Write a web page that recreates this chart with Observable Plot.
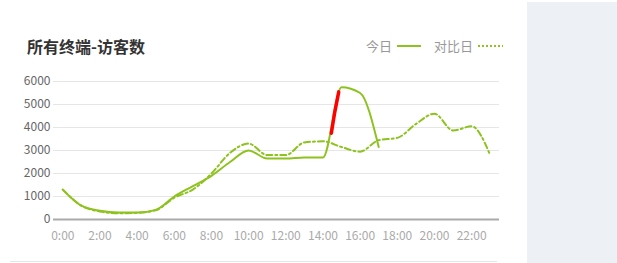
<!DOCTYPE html>
<html>
<head>
<meta charset="utf-8">
<script src="https://cdn.jsdelivr.net/npm/d3@7"></script>
<script src="https://cdn.jsdelivr.net/npm/@observablehq/plot@0.6"></script>
<style>
  html, body { margin: 0; padding: 0; background: #fff; }
  body { width: 617px; height: 263px; position: relative; overflow: hidden;
         font-family: "Microsoft YaHei", "Noto Sans CJK SC", sans-serif; }
  #title { position: absolute; left: 27px; top: 36px; font-size: 16px; font-weight: bold; color: #333; line-height: 20px; }
  #legend { position: absolute; left: 366px; top: 37px; font-size: 13px; color: #999; line-height: 18px; display: flex; align-items: center; white-space: nowrap; }
  #legend svg { display: block; margin: 0 4px 0 5px; }
  #chart { position: absolute; left: 0; top: 70px; }
  #side { position: absolute; left: 527px; top: 2px; width: 90px; height: 261px; background: #edf0f5; }
  #bottom { position: absolute; left: 10px; top: 261px; width: 487px; height: 1px; background: #e6e6e6; }
</style>
</head>
<body>
<div id="title">所有终端-访客数</div>
<div id="legend">
  <span>今日</span>
  <svg width="24" height="6"><line x1="0" y1="3" x2="24" y2="3" stroke="#8dc21f" stroke-width="2"/></svg>
  <span style="margin-left:9px">对比日</span>
  <svg width="25" height="6"><line x1="0" y1="3" x2="25" y2="3" stroke="#8dc21f" stroke-width="2" stroke-dasharray="2,2"/></svg>
</div>
<div id="chart"></div>
<div id="side"></div>
<div id="bottom"></div>
<script>
const hours = [0,1,2,3,4,5,6,7,8,9,10,11,12,13,14,15,16,17,18,19,20,21,22,23];
const todayHours = [0,1,2,3,4,5,6,7,8,9,10,11,12,13,14,15,16,17];
const todayValues = [1300,600,380,300,300,420,1000,1450,1900,2500,3000,2650,2650,2700,2700,5750,5500,3150];
const compareValues = [1300,600,350,270,290,400,950,1300,2000,2900,3300,2800,2800,3350,3400,3150,2950,3450,3550,4150,4600,3870,4050,2800];
const highlightHours = [14.45, 14.62, 14.85];
const highlightValues = [3750, 4600, 5550];
const yTicks = [0,1000,2000,3000,4000,5000,6000];
const xTicks = [0,2,4,6,8,10,12,14,16,18,20,22];
const xTickLabels = ["0:00","2:00","4:00","6:00","8:00","10:00","12:00","14:00","16:00","18:00","20:00","22:00"];

const green = "#8dc21f";
const today = todayHours.map((h, i) => ({h, v: todayValues[i]}));
const compare = hours.map((h, i) => ({h, v: compareValues[i]}));
const highlight = highlightHours.map((h, i) => ({h, v: highlightValues[i]}));

const chart = Plot.plot({
  width: 527,
  height: 180,
  marginLeft: 53,
  marginRight: 28,
  marginTop: 11,
  marginBottom: 31,
  style: {fontFamily: '"Microsoft YaHei", "Noto Sans CJK SC", sans-serif', fontSize: "12px", background: "transparent"},
  x: {domain: [-0.5, 23.5]},
  y: {domain: [0, 6000]},
  marks: [
    Plot.gridY(yTicks, {stroke: "#e6e6e6", strokeOpacity: 1}),
    Plot.axisY(yTicks, {tickSize: 0, tickPadding: 3, label: null, fill: "#666", fontSize: 12, tickFormat: (d) => String(d)}),
    Plot.axisX(xTicks, {tickSize: 0, tickPadding: 12, label: null, fill: "#aaa", fontSize: 12,
      tickFormat: (d) => xTickLabels[xTicks.indexOf(d)]}),
    Plot.line(compare, {x: "h", y: "v", stroke: green, strokeWidth: 2, strokeDasharray: "6,3,2,3", curve: "monotone-x"}),
    Plot.line(today, {x: "h", y: "v", stroke: green, strokeWidth: 2, curve: "monotone-x"}),
    Plot.line(highlight, {x: "h", y: "v", stroke: "#ff0000", strokeWidth: 3.5}),
    Plot.ruleY([0], {stroke: "#aaa", strokeWidth: 2})
  ]
});
document.getElementById("chart").appendChild(chart);
</script>
</body>
</html>
